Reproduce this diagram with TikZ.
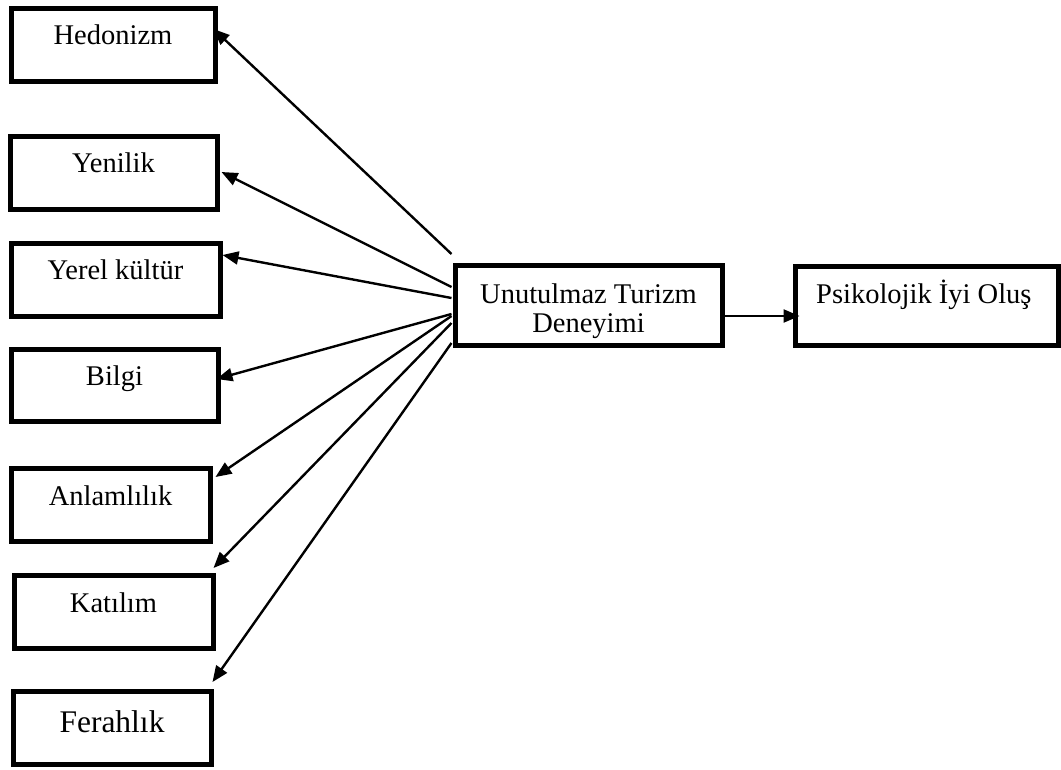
\documentclass[tikz,border=0pt]{standalone}
\usepackage{fontspec}
\setmainfont{Liberation Serif}
\usetikzlibrary{arrows.meta,calc}
\begin{document}
\begin{tikzpicture}[x=1pt,y=-1pt,
  box/.style={draw=black,line width=5pt,rectangle,inner sep=0pt,font=\fontsize{28.5}{29}\selectfont},
  lbl/.style={font=\fontsize{28.5}{29}\selectfont,inner sep=0pt},
  arr/.style={line width=2.4pt,-{Triangle[length=16pt,width=13pt]}}]
\useasboundingbox (0,0) rectangle (1061,769);
\node[box,minimum width=204pt,text height=36pt,text depth=37pt] (H) at (113,44.5) {Hedonizm};
\node[box,minimum width=207pt,text height=36pt,text depth=37pt] (Y) at (113.5,172.5) {Yenilik};
\node[box,minimum width=209pt,text height=36pt,text depth=37pt] (YK) at (115.5,279.5) {Yerel kültür};
\node[box,minimum width=207pt,text height=36pt,text depth=36pt] (B) at (114.5,385) {Bilgi};
\node[box,minimum width=199pt,text height=37pt,text depth=36pt] (A) at (110.5,504.5) {Anlamlılık};
\node[box,minimum width=199pt,text height=37pt,text depth=36pt] (K) at (113.5,611.5) {Katılım};
\node[box,minimum width=198pt,text height=41pt,text depth=32pt,font=\fontsize{31.5}{33}\selectfont] (F) at (112,727.5) {Ferahlık};
\node[box,minimum width=267pt,minimum height=80pt] (U) at (588.5,305) {};
\node[lbl,anchor=base] (Ut1) at (588.5,303) {Unutulmaz Turizm};
\node[lbl,anchor=base] (Ut2) at (588.5,332) {Deneyimi};
\node[box,minimum width=263pt,minimum height=79pt] (P) at (926.5,305.5) {};
\node[lbl,anchor=base west] (Pt) at (816,303) {Psikolojik İyi Oluş};
\coordinate (o1) at ($(U.west)+(-1,-51)$);
\coordinate (o2) at ($(U.west)+(-1,-18)$);
\coordinate (o3) at ($(U.west)+(-1,-7)$);
\coordinate (o4) at ($(U.west)+(-1,9)$);
\coordinate (o5) at ($(U.west)+(-1,11)$);
\coordinate (o6) at ($(U.west)+(-1,18)$);
\coordinate (o7) at ($(U.west)+(-1,38)$);
\draw[arr] (o1) -- ($(H.east)+(-4,-15.5)$);
\draw[arr] (o2) -- ($(Y.east)+(2,-0.5)$);
\draw[arr] (o3) -- ($(YK.east)+(0,-24.5)$);
\draw[arr] (o4) -- ($(B.east)+(-4,-6)$);
\draw[arr] (o5) -- ($(A.east)+(3,-27.5)$);
\draw[arr] (o6) -- ($(K.east)+(-2,-43.5)$);
\draw[arr] (o7) -- ($(F.east)+(-1,-45.5)$);
\draw[arr] ($(U.east)+(0,11)$) -- ($(P.west)+(7,10.5)$);
\end{tikzpicture}
\end{document}
